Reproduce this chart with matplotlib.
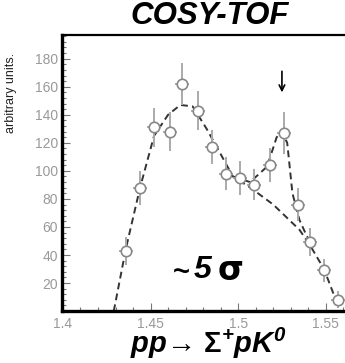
import matplotlib.pyplot as plt
from matplotlib.ticker import MultipleLocator

plt.rcParams['font.family'] = ['Liberation Sans', 'DejaVu Sans']
plt.rcParams['mathtext.fontset'] = 'custom'
plt.rcParams['mathtext.rm'] = 'Liberation Sans'
plt.rcParams['mathtext.it'] = 'Liberation Sans:italic'
plt.rcParams['mathtext.bf'] = 'Liberation Sans:bold'
plt.rcParams['mathtext.bfit'] = 'Liberation Sans:italic:bold'

# measured invariant-mass spectrum (GeV), counts in arbitrary units
mass = [1.436, 1.444, 1.452, 1.461, 1.468, 1.477, 1.485, 1.493,
        1.501, 1.509, 1.518, 1.526, 1.534, 1.541, 1.549, 1.557]
counts = [43, 88, 131, 128, 162, 143, 117, 98,
          95, 90, 104, 127, 76, 49, 29, 8]
count_err = [10, 12, 14, 14, 15, 14, 12, 12,
             12, 11, 12, 15, 12, 10, 8, 6]
bin_half = 0.004

# phase-space background curve
bg_x = [1.429, 1.436, 1.444, 1.452, 1.460, 1.467, 1.474, 1.482,
        1.490, 1.497, 1.507, 1.520, 1.535, 1.541, 1.549, 1.557]
bg_y = [0, 45, 88, 125, 140, 147, 146, 130,
        112, 96, 88, 76, 58, 47, 30, 4]

# background + resonance fit
fit_x = [1.497, 1.5068, 1.5165, 1.522, 1.525, 1.528, 1.531, 1.535, 1.539, 1.542]
fit_y = [96, 92, 103, 124, 128, 120, 84, 65, 54, 47]

peak_mass = 1.525

fig = plt.figure(figsize=(3.45, 3.63), dpi=100)
ax = fig.add_axes([0.180, 0.143, 0.820, 0.761])

dash = dict(color='#333333', lw=1.4, dashes=(3.5, 2.2))
ax.plot(bg_x, bg_y, **dash, zorder=2)
ax.plot(fit_x, fit_y, **dash, zorder=2)

ax.errorbar(mass, counts, yerr=count_err, xerr=bin_half, fmt='o',
            color='#999999', ecolor='#aaaaaa', elinewidth=1.4, capsize=0,
            mfc='white', mec='#888888', mew=1.2, ms=7.5, zorder=3)

ax.annotate('', xy=(peak_mass, 154), xytext=(peak_mass, 173),
            arrowprops=dict(arrowstyle='->', color='black', lw=1.2))

# significance label
ax.text(1.4725, 28, '~', fontsize=21, fontweight='bold', ha='right', va='center')
ax.text(1.4745, 29, '5', fontsize=23, fontweight='bold', style='italic',
        ha='left', va='center')
ax.text(1.4885, 29, 'σ', fontsize=24, fontweight='bold', ha='left', va='center',
        family=['DejaVu Sans'])

ax.set_xlim(1.3995, 1.561)
ax.set_ylim(0, 197)
ax.xaxis.set_minor_locator(MultipleLocator(0.01))
ax.yaxis.set_minor_locator(MultipleLocator(4))
ax.set_xticks([1.4, 1.45, 1.5, 1.55])
ax.set_xticklabels(['1.4', '1.45', '1.5', '1.55'])
ax.set_yticks(range(20, 181, 20))

ax.tick_params(which='both', direction='in', colors='#777777',
               labelcolor='#999999', labelsize=10, width=0.8)
ax.tick_params(which='major', length=6, pad=4)
ax.tick_params(which='minor', length=3)
ax.tick_params(axis='y', pad=3)

for side in ('left', 'bottom'):
    ax.spines[side].set_linewidth(2.4)
ax.spines['top'].set_linewidth(1.6)
ax.spines['right'].set_visible(False)

ax.set_ylabel('arbitrary units.', fontsize=9, color='#222222')
ax.yaxis.set_label_coords(-0.16, 0.79)

fig.text(0.609, 0.956, 'COSY-TOF', fontsize=22.5, fontweight='bold',
         style='italic', ha='center', va='center')
fig.text(0.603, 0.053, r'$\mathbfit{pp}$→ $\mathbf{\Sigma}^{\mathbfit{+}}\mathbfit{pK}^{\mathbfit{0}}$',
         fontsize=21, ha='center', va='center')

fig.savefig('out.png', dpi=100, facecolor='white')
